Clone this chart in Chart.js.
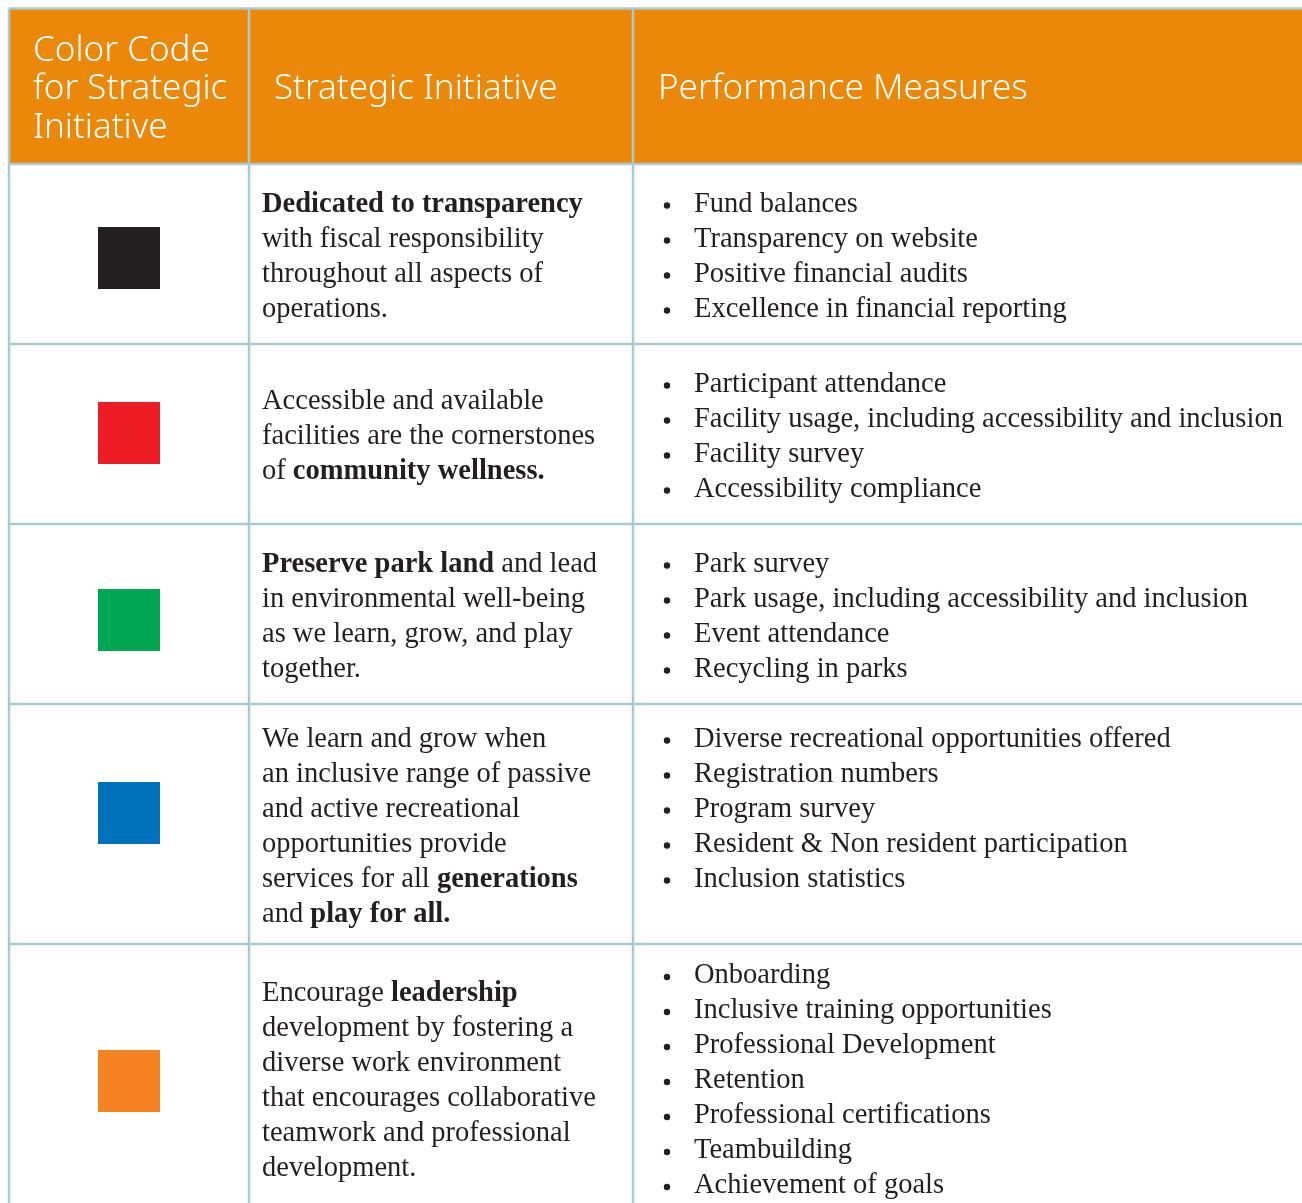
<!DOCTYPE html>
<html>
<head>
<meta charset="utf-8">
<script src="https://cdn.jsdelivr.net/npm/chart.js@4.4.1/dist/chart.umd.min.js"></script>
<style>
  html, body { margin: 0; padding: 0; background: #fff; }
  #table-canvas { display: block; }
</style>
</head>
<body>
<canvas id="table-canvas" width="1302" height="1203"></canvas>
<script>

// header texts (first one is broken over three lines)
var headers = [
	["Color Code", "for Strategic", "Initiative"],
	["Strategic Initiative"],
	["Performance Measures"]
];

// colour code of each strategic initiative
var squareColors = ["#231f20", "#ed1c24", "#00a651", "#0072bc", "#f58220"];

// strategic initiative text, **...** is bold
var initiatives = [
	["**Dedicated to transparency**", "with fiscal responsibility", "throughout all aspects of", "operations."],
	["Accessible and available", "facilities are the cornerstones", "of **community wellness.**"],
	["**Preserve park land** and lead", "in environmental well-being", "as we learn, grow, and play", "together."],
	["We learn and grow when", "an inclusive range of passive", "and active recreational", "opportunities provide", "services for all **generations**", "and **play for all.**"],
	["Encourage **leadership**", "development by fostering a", "diverse work environment", "that encourages collaborative", "teamwork and professional", "development."]
];

// performance measures for each initiative
var measures = [
	["Fund balances", "Transparency on website", "Positive financial audits", "Excellence in financial reporting"],
	["Participant attendance", "Facility usage, including accessibility and inclusion", "Facility survey", "Accessibility compliance"],
	["Park survey", "Park usage, including accessibility and inclusion", "Event attendance", "Recycling in parks"],
	["Diverse recreational opportunities offered", "Registration numbers", "Program survey", "Resident & Non resident participation", "Inclusion statistics"],
	["Onboarding", "Inclusive training opportunities", "Professional Development", "Retention", "Professional certifications", "Teambuilding", "Achievement of goals"]
];

// layout (in axis units, one unit = one pixel)
var colEdges = [9, 249, 633, 1312];
var rowEdges = [8.5, 164, 344, 524, 704, 944, 1212];
var measuresAlign = ["middle", "middle", "middle", "top", "middle"];
var squareShift = [4, -1, 6, -11, 3];

var headerColor = "#eb8709";
var gridColor = "#a8cbd1";
var textColor = "#231f20";
var headFont = "'Noto Sans', sans-serif";
var bodyFont = "'Liberation Serif', serif";
var bodySize = 28.5;
var lineH = 35;

function rowMid(i) { return (rowEdges[i] + rowEdges[i + 1]) / 2; }

function drawRich(ctx, text, x, y) {
	var parts = text.split("**");
	for (var i = 0; i < parts.length; i++) {
		if (!parts[i]) continue;
		ctx.font = (i % 2 ? "bold " : "") + bodySize + "px " + bodyFont;
		ctx.fillText(parts[i], x, y);
		x += ctx.measureText(parts[i]).width;
	}
}

var tablePlugin = {
	id: "tableGrid",
	beforeDatasetsDraw: function (chart) {
		var ctx = chart.ctx;
		var sx = chart.scales.x, sy = chart.scales.y;
		var X = function (v) { return sx.getPixelForValue(v); };
		var Y = function (v) { return sy.getPixelForValue(v); };

		ctx.save();
		// header band
		ctx.fillStyle = headerColor;
		ctx.fillRect(X(colEdges[0]), Y(rowEdges[0]), X(colEdges[3]) - X(colEdges[0]), Y(rowEdges[1]) - Y(rowEdges[0]));

		// grid lines
		ctx.strokeStyle = gridColor;
		ctx.lineWidth = 2.5;
		ctx.beginPath();
		rowEdges.forEach(function (r) {
			ctx.moveTo(X(colEdges[0]), Y(r));
			ctx.lineTo(X(colEdges[3]), Y(r));
		});
		colEdges.forEach(function (c) {
			ctx.moveTo(X(c), Y(rowEdges[0]));
			ctx.lineTo(X(c), Y(rowEdges[rowEdges.length - 1]));
		});
		ctx.stroke();

		// header text
		ctx.fillStyle = "#ffffff";
		ctx.textBaseline = "middle";
		ctx.textAlign = "left";
		ctx.font = "300 35px " + headFont;
		var headX = [33, 274, 658];
		headers.forEach(function (lines, c) {
			var top = rowMid(0) + 3 - (lines.length - 1) * 38.5 / 2;
			lines.forEach(function (t, k) {
				ctx.fillText(t, X(headX[c]), Y(top + k * 38.5));
			});
		});

		// body text
		ctx.fillStyle = textColor;
		initiatives.forEach(function (lines, r) {
			var top2 = rowMid(r + 1) - (lines.length - 1) * lineH / 2 + 3;
			lines.forEach(function (t, k) {
				drawRich(ctx, t, X(262), Y(top2 + k * lineH));
			});
			var ms = measures[r];
			var top3 = rowMid(r + 1) - (ms.length - 1) * lineH / 2 + 3;
			if (measuresAlign[r] === "top") top3 = top2;
			ms.forEach(function (t, k) {
				var y = Y(top3 + k * lineH);
				ctx.font = bodySize + "px " + bodyFont;
				ctx.beginPath();
				ctx.arc(X(667), y + 1, 3.2, 0, Math.PI * 2);
				ctx.fill();
				ctx.fillText(t, X(694), y);
			});
		});
		ctx.restore();
	}
};

var ctx1 = document.getElementById("table-canvas");

var squareData = squareColors.map(function (c, i) {
	return { x: (colEdges[0] + colEdges[1]) / 2, y: rowMid(i + 1) + squareShift[i] };
});

var chart = new Chart(ctx1, {
	type: "scatter",
	data: {
		datasets: [
			{
				label: "Color code",
				data: squareData,
				pointStyle: "rect",
				pointRadius: 31 * Math.SQRT2,
				pointHoverRadius: 31 * Math.SQRT2,
				backgroundColor: squareColors,
				borderWidth: 0
			}
		]
	},
	options: {
		responsive: false,
		animation: false,
		events: [],
		layout: { padding: 0, autoPadding: false },
		plugins: {
			legend: { display: false },
			tooltip: { enabled: false }
		},
		scales: {
			x: { type: "linear", min: 0, max: 1302, display: false },
			y: { type: "linear", min: 0, max: 1203, reverse: true, display: false }
		}
	},
	plugins: [tablePlugin]
});

</script>
</body>
</html>
